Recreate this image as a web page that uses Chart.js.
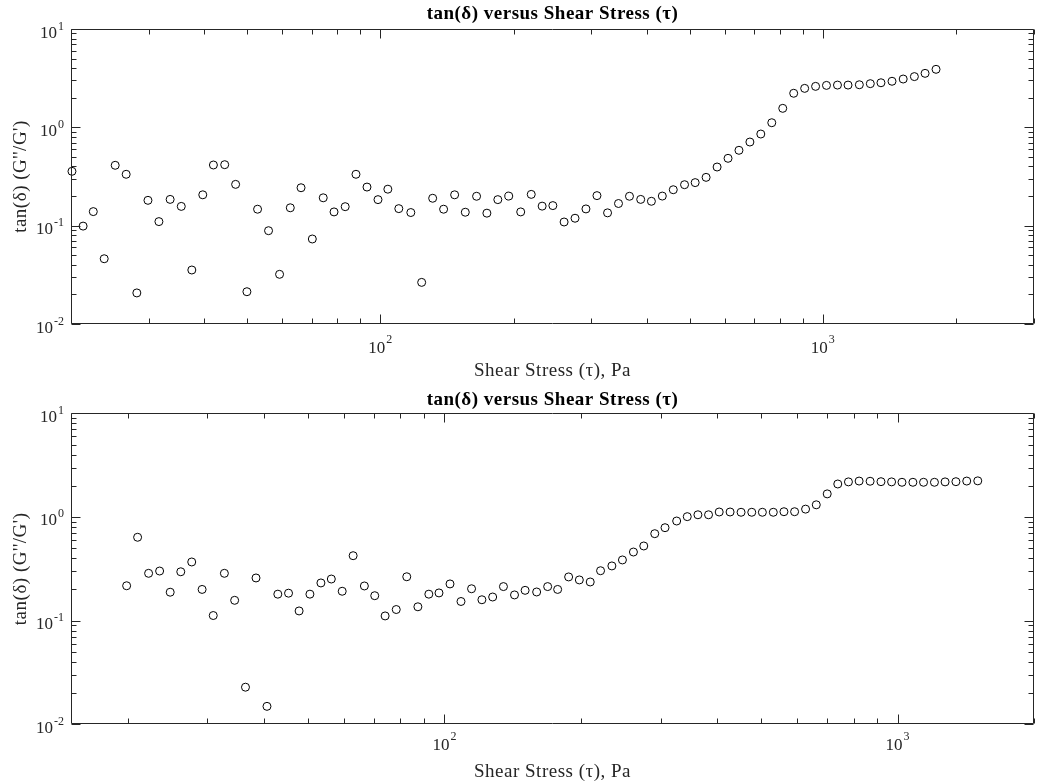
<!DOCTYPE html>
<html>
<head>
<meta charset="utf-8">
<script src="https://cdn.jsdelivr.net/npm/chart.js@4.4.0/dist/chart.umd.min.js"></script>
<style>
  html, body { margin: 0; padding: 0; background: #ffffff; }
  #c1 { position: absolute; left: 0; top: 0; }
  #c2 { position: absolute; left: 0; top: 380px; }
</style>
</head>
<body>
<canvas id="c1" width="1039" height="386"></canvas>
<canvas id="c2" width="1039" height="404"></canvas>
<script>
// ---------- data ----------
const topStress = [20.1, 21.3, 22.46, 23.77, 25.17, 26.65, 28.17, 29.85, 31.6, 33.5,
  35.5, 37.5, 39.7, 41.96, 44.5, 47.1, 49.95, 52.8, 55.9, 59.2,
  62.6, 66.2, 70.2, 74.3, 78.6, 83.3, 88.1, 93.3, 98.8, 104,
  110.1, 117.2, 124.0, 131.3, 139, 147.2, 155.6, 165, 174.1, 184.3,
  195.1, 207.6, 219.3, 232.1, 245.4, 260.2, 275.4, 291.5, 308.7, 326.2,
  345.3, 365.6, 387.6, 409.8, 433.7, 459.2, 486.9, 514.6, 544.7, 576.8,
  610.6, 646.3, 684.1, 724.1, 766.6, 811.6, 859.2, 909.7, 962.9, 1019,
  1079, 1140, 1209, 1280, 1353, 1433, 1519, 1610, 1702, 1802];
const topTanDelta = [0.357, 0.099, 0.139, 0.0461, 0.411, 0.333, 0.0207, 0.181, 0.110, 0.185,
  0.157, 0.0354, 0.206, 0.414, 0.417, 0.263, 0.0213, 0.147, 0.0889, 0.032,
  0.152, 0.243, 0.0732, 0.192, 0.138, 0.156, 0.333, 0.247, 0.184, 0.235,
  0.149, 0.136, 0.0265, 0.190, 0.147, 0.206, 0.137, 0.199, 0.134, 0.184,
  0.200, 0.138, 0.208, 0.158, 0.160, 0.109, 0.119, 0.148, 0.202, 0.135,
  0.168, 0.199, 0.185, 0.177, 0.200, 0.232, 0.261, 0.274, 0.310, 0.395,
  0.484, 0.584, 0.709, 0.855, 1.114, 1.56, 2.22, 2.49, 2.61, 2.67,
  2.69, 2.69, 2.71, 2.78, 2.84, 2.94, 3.10, 3.28, 3.54, 3.89];

const bottomStress = [19.9, 21.04, 22.25, 23.53, 24.83, 26.2, 27.7, 29.2, 30.9, 32.7,
  34.45, 36.4, 38.4, 40.6, 42.9, 45.3, 47.8, 50.5, 53.4, 56.3,
  59.5, 62.9, 66.6, 70.2, 74.0, 78.3, 82.6, 87.4, 92.4, 97.3,
  102.9, 108.8, 114.8, 121, 127.8, 135, 142.8, 150.7, 159.8, 169,
  177.8, 188, 198.5, 209.8, 221.1, 234.2, 247.1, 261.3, 275.4, 291.2,
  306.8, 325.5, 343.5, 362.6, 382.7, 404, 427, 451.5, 476.7, 503.1,
  531.8, 561.4, 592.6, 626.6, 661.6, 699.4, 738, 779.1, 822.5, 869.7,
  919.1, 970, 1022.6, 1081, 1141, 1206, 1273, 1345, 1421, 1503];
const bottomTanDelta = [0.217, 0.637, 0.286, 0.301, 0.188, 0.296, 0.368, 0.200, 0.112, 0.286,
  0.157, 0.0228, 0.258, 0.0149, 0.180, 0.184, 0.124, 0.180, 0.231, 0.252,
  0.192, 0.423, 0.216, 0.174, 0.111, 0.128, 0.265, 0.136, 0.180, 0.185,
  0.226, 0.153, 0.203, 0.159, 0.169, 0.213, 0.177, 0.196, 0.189, 0.213,
  0.200, 0.264, 0.247, 0.236, 0.303, 0.337, 0.385, 0.459, 0.525, 0.690,
  0.788, 0.914, 1.007, 1.05, 1.05, 1.117, 1.117, 1.11, 1.11, 1.11,
  1.11, 1.124, 1.124, 1.19, 1.31, 1.67, 2.08, 2.18, 2.22, 2.21,
  2.19, 2.18, 2.16, 2.16, 2.16, 2.16, 2.18, 2.19, 2.22, 2.23];

const topXTickValues = [100, 1000];
const topXTickLabels = ['10^2', '10^3'];
const bottomXTickValues = [100, 1000];
const bottomXTickLabels = ['10^2', '10^3'];
const yTickValues = [0.01, 0.1, 1, 10];
const yTickLabels = ['10^-2', '10^-1', '10^0', '10^1'];

const chartTitle = 'tan(\u03B4) versus Shear Stress (\u03C4)';
const xAxisTitle = 'Shear Stress (\u03C4), Pa';
const yAxisTitle = "tan(\u03B4) (G''/G')";

// ---------- styling ----------
const FONT = '"Liberation Serif", "Times New Roman", serif';
const AXIS_COLOR = '#262626';

function drawPow(ctx, label, x, y, align, raise) {
  const parts = label.split('^');
  const base = parts[0], exp = parts[1] || '';
  ctx.font = '17px ' + FONT;
  const wb = ctx.measureText(base).width;
  ctx.font = '12px ' + FONT;
  const we = ctx.measureText(exp).width;
  const total = wb + we + 1;
  const x0 = align === 'center' ? x - total / 2 : x - total;
  ctx.textAlign = 'left';
  ctx.textBaseline = 'alphabetic';
  ctx.fillStyle = AXIS_COLOR;
  ctx.font = '17px ' + FONT;
  ctx.fillText(base, x0, y);
  ctx.font = '12px ' + FONT;
  ctx.fillText(exp, x0 + wb + 1, y - raise);
}

function logTicks(min, max) {
  const out = [];
  const k0 = Math.floor(Math.log10(min)) - 1, k1 = Math.ceil(Math.log10(max)) + 1;
  for (let k = k0; k <= k1; k++) {
    for (let m = 1; m <= 9; m++) {
      const v = m * Math.pow(10, k);
      if (v >= min * 0.9999 && v <= max * 1.0001) out.push({ v, major: m === 1 });
    }
  }
  return out;
}

const textSpacing = {
  id: 'textSpacing',
  beforeDraw(chart) {
    if ('letterSpacing' in chart.ctx) chart.ctx.letterSpacing = '0.5px';
  }
};

const matlabAxes = {
  id: 'matlabAxes',
  afterDraw(chart, args, opts) {
    const ctx = chart.ctx;
    const { left, right, top, bottom } = chart.chartArea;
    const xs = chart.scales.x, ys = chart.scales.y;
    ctx.save();
    if ('letterSpacing' in ctx) ctx.letterSpacing = '0px';
    ctx.strokeStyle = AXIS_COLOR;
    ctx.lineWidth = 1;
    // box
    const L = Math.round(left) + 0.5, R = Math.round(right) - 0.5;
    const T = Math.round(top) + 0.5, B = Math.round(bottom) - 0.5;
    ctx.beginPath();
    ctx.rect(L, T, R - L, B - T);
    ctx.stroke();
    // x ticks (bottom and top, inward)
    ctx.beginPath();
    logTicks(xs.min, xs.max).forEach(t => {
      const px = Math.round(xs.getPixelForValue(t.v)) + 0.5;
      const len = t.major ? 9 : 5;
      ctx.moveTo(px, B); ctx.lineTo(px, B - len);
      ctx.moveTo(px, T); ctx.lineTo(px, T + len);
    });
    // y ticks (left and right, inward)
    logTicks(ys.min, ys.max).forEach(t => {
      const py = Math.round(ys.getPixelForValue(t.v)) + 0.5;
      const len = t.major ? 9 : 5;
      ctx.moveTo(L, py); ctx.lineTo(L + len, py);
      ctx.moveTo(R, py); ctx.lineTo(R - len, py);
    });
    ctx.stroke();
    // tick labels
    opts.xTickValues.forEach((v, i) => {
      drawPow(ctx, opts.xTickLabels[i], xs.getPixelForValue(v), bottom + opts.xLabelOffset, 'center', 10);
    });
    yTickValues.forEach((v, i) => {
      drawPow(ctx, yTickLabels[i], left - 7, ys.getPixelForValue(v) + 8.5, 'right', 8);
    });
    ctx.restore();
  }
};

function makeChart(id, xs, ys, xMin, xMax, xAxisHeight, titlePad, xTitlePadBottom, xTickValues, xTickLabels, xLabelOffset) {
  const pts = xs.map((x, i) => ({ x: x, y: ys[i] }));
  return new Chart(document.getElementById(id), {
    type: 'scatter',
    data: {
      datasets: [{
        data: pts,
        pointStyle: 'circle',
        pointRadius: 4,
        pointHoverRadius: 4,
        borderWidth: 1,
        borderColor: '#000000',
        backgroundColor: 'rgba(0,0,0,0)',
        clip: false
      }]
    },
    options: {
      responsive: false,
      animation: false,
      devicePixelRatio: 1,
      layout: { padding: { left: 0, right: 2, top: 0, bottom: 0 } },
      plugins: {
        legend: { display: false },
        tooltip: { enabled: false },
        title: {
          display: true,
          fullSize: false,
          text: chartTitle,
          color: '#000000',
          font: { family: FONT, size: 19, weight: 'bold', lineHeight: 1.2 },
          padding: titlePad
        },
        matlabAxes: { xTickValues: xTickValues, xTickLabels: xTickLabels, xLabelOffset: xLabelOffset }
      },
      scales: {
        x: {
          type: 'logarithmic',
          position: 'bottom',
          min: xMin, max: xMax,
          grid: { display: false, drawTicks: false },
          border: { display: false },
          ticks: { display: false },
          title: {
            display: true, text: xAxisTitle, color: AXIS_COLOR,
            font: { family: FONT, size: 19, lineHeight: 1.2 },
            padding: { top: 0, bottom: xTitlePadBottom }
          },
          afterFit: s => { s.height = xAxisHeight; }
        },
        y: {
          type: 'logarithmic',
          position: 'left',
          min: 0.01, max: 10,
          grid: { display: false, drawTicks: false },
          border: { display: false },
          ticks: { display: false },
          title: {
            display: true, text: yAxisTitle, color: AXIS_COLOR,
            font: { family: FONT, size: 19, lineHeight: 1.2 },
            padding: { top: 9.6, bottom: 0 }
          },
          afterFit: s => { s.width = 71; }
        }
      }
    },
    plugins: [textSpacing, matlabAxes]
  });
}

makeChart('c1', topStress, topTanDelta, 20, 3000, 62, { top: 2.6, bottom: 3.6 }, 3.3, topXTickValues, topXTickLabels, 29);
makeChart('c2', bottomStress, bottomTanDelta, 15, 2000, 59.7, { top: 8.6, bottom: 1.9 }, 0.8, bottomXTickValues, bottomXTickLabels, 26);
</script>
</body>
</html>
